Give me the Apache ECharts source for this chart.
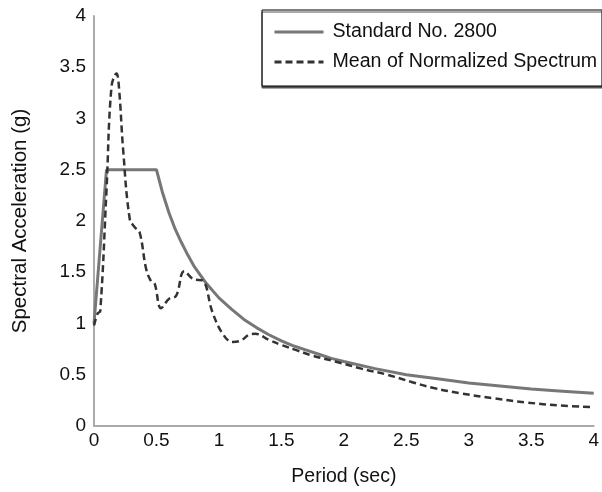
<!DOCTYPE html>
<html>
<head>
<meta charset="utf-8">
<script src="https://cdn.jsdelivr.net/npm/echarts@6/dist/echarts.min.js"></script>
<style>html,body{margin:0;padding:0;background:#fff;}#c{width:602px;height:492px;}</style>
</head>
<body>
<div id="c"></div>
<script>
var seriesNames = ['Standard No. 2800', 'Mean of Normalized Spectrum'];
var xTicks = [0, 0.5, 1, 1.5, 2, 2.5, 3, 3.5, 4];
var yTicks = [0, 0.5, 1, 1.5, 2, 2.5, 3, 3.5, 4];

var standardT = [0, 0.1, 0.5, 0.55, 0.6, 0.65, 0.7, 0.75, 0.8, 0.9, 1.0, 1.1, 1.2, 1.3, 1.4, 1.5, 1.6, 1.7, 1.8, 1.9, 2.0, 2.25, 2.5, 2.75, 3.0, 3.25, 3.5, 3.75, 4.0];
var standardSa = [1.0, 2.5, 2.5, 2.27, 2.08, 1.92, 1.79, 1.67, 1.56, 1.39, 1.25, 1.14, 1.04, 0.96, 0.89, 0.83, 0.78, 0.74, 0.70, 0.66, 0.63, 0.56, 0.50, 0.46, 0.42, 0.39, 0.36, 0.34, 0.32];

var meanT = [0, 0.03, 0.05, 0.1, 0.14, 0.18, 0.2, 0.233, 0.286, 0.326, 0.365, 0.418, 0.458, 0.485, 0.537, 0.6, 0.657, 0.723, 0.8, 0.868, 0.948, 1.03, 1.107, 1.17, 1.24, 1.29, 1.4, 1.5, 1.62, 1.74, 1.93, 2.14, 2.35, 2.54, 2.72, 2.93, 3.2, 3.46, 3.73, 4.0];
var meanSa = [0.98, 1.1, 1.12, 2.3, 3.31, 3.44, 3.3, 2.7, 2.02, 1.94, 1.89, 1.53, 1.41, 1.39, 1.15, 1.24, 1.27, 1.51, 1.43, 1.42, 1.11, 0.90, 0.82, 0.83, 0.89, 0.90, 0.84, 0.79, 0.74, 0.69, 0.63, 0.56, 0.50, 0.43, 0.37, 0.32, 0.27, 0.23, 0.20, 0.185];

function pairs(xs, ys) { return xs.map(function (x, i) { return [x, ys[i]]; }); }

var chart = echarts.init(document.getElementById('c'), null, { renderer: 'canvas' });
var font = 'Liberation Sans, Arial, sans-serif';
chart.setOption({
  animation: false,
  backgroundColor: '#fff',
  textStyle: { fontFamily: font },
  grid: { left: 94, right: 4, top: 16, bottom: 64, containLabel: false },
  legend: {
    orient: 'vertical',
    left: 262,
    top: 10,
    padding: [12, 5, 14, 11],
    itemWidth: 49,
    itemHeight: 14,
    itemGap: 10,
    backgroundColor: '#fff',
    borderColor: '#000',
    borderWidth: 1,
    borderRadius: 0,
    shadowColor: '#555',
    shadowOffsetY: 2,
    shadowBlur: 0,
    itemStyle: { opacity: 0 },
    textStyle: { fontFamily: font, fontSize: 19.6, lineHeight: 19, color: '#111', padding: [0, 0, 0, 4] },
    data: [
      { name: seriesNames[0], lineStyle: { width: 3, color: '#777' } },
      { name: seriesNames[1], lineStyle: { width: 3, color: '#333', type: [7, 4] } }
    ]
  },
  xAxis: {
    type: 'value',
    min: 0, max: 4, interval: 0.5,
    name: 'Period (sec)',
    nameLocation: 'middle',
    nameGap: 41,
    nameTextStyle: { fontFamily: font, fontSize: 19.5, color: '#111' },
    axisLine: { show: true, onZero: false, lineStyle: { color: '#aaa', width: 2 } },
    axisTick: { show: false },
    splitLine: { show: false },
    axisLabel: {
      fontFamily: font, fontSize: 19, color: '#111', margin: 5,
      formatter: function (v) { return xTicks.indexOf(v) >= 0 ? String(v) : ''; }
    }
  },
  yAxis: {
    type: 'value',
    min: 0, max: 4, interval: 0.5,
    name: 'Spectral Acceleration (g)',
    nameLocation: 'middle',
    nameGap: 63,
    nameTextStyle: { fontFamily: font, fontSize: 20.5, color: '#111' },
    axisLine: { show: true, lineStyle: { color: '#aaa', width: 2 } },
    axisTick: { show: false },
    splitLine: { show: false },
    axisLabel: {
      fontFamily: font, fontSize: 19, color: '#111', margin: 8,
      formatter: function (v) { return yTicks.indexOf(v) >= 0 ? String(v) : ''; }
    }
  },
  series: [
    {
      name: seriesNames[0],
      type: 'line',
      data: pairs(standardT, standardSa),
      symbol: 'none',
      smooth: false,
      lineStyle: { color: '#777', width: 3 },
      itemStyle: { color: '#777' },
      z: 2
    },
    {
      name: seriesNames[1],
      type: 'line',
      data: pairs(meanT, meanSa),
      symbol: 'none',
      smooth: 0.4,
      lineStyle: { color: '#333', width: 2.5, type: [7, 4] },
      itemStyle: { color: '#333' },
      z: 3
    }
  ]
});
</script>
</body>
</html>
